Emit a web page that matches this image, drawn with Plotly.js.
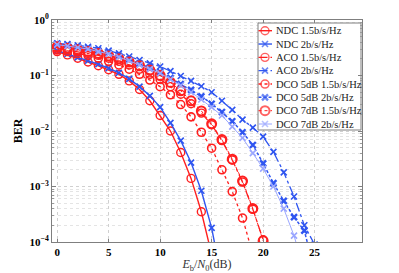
<!DOCTYPE html>
<html>
<head>
<meta charset="utf-8">
<script src="https://cdn.plot.ly/plotly-3.0.1.min.js"></script>
<style>html,body{margin:0;padding:0;background:#fff;}#chart{width:399px;height:273px;}</style>
</head>
<body>
<div id="chart"></div>
<script>
// Eb/N0 (dB) sample points
const ebno = [0,1,2,3,4,5,6,7,8,9,10,11,12,13,14,15,16,17,18,19,20,21,22,23,24,25];

const seriesNames = [
  'NDC 1.5b/s/Hz', 'NDC 2b/s/Hz', 'ACO 1.5b/s/Hz', 'ACO 2b/s/Hz',
  'DCO 5dB 1.5b/s/Hz', 'DCO 5dB 2b/s/Hz', 'DCO 7dB 1.5b/s/Hz', 'DCO 7dB 2b/s/Hz'
];

const berNDC15 = [0.27,0.235,0.205,0.175,0.15,0.127,0.105,0.08,0.056,0.035,0.019,0.010,4.1e-3,1.4e-3,3.5e-4,6e-5];
const berNDC2  = [0.28,0.245,0.212,0.185,0.16,0.135,0.112,0.087,0.063,0.043,0.027,0.014,6.7e-3,2.7e-3,8.4e-4,1.8e-4,2e-5];
const berACO15 = [0.31,0.29,0.27,0.25,0.23,0.205,0.18,0.155,0.13,0.105,0.085,0.063,0.046,0.031,0.021,0.013,6.7e-3,3.0e-3,1.2e-3,3.9e-4,1.1e-4];
const berACO2  = [0.38,0.37,0.35,0.33,0.31,0.28,0.25,0.22,0.19,0.165,0.145,0.12,0.098,0.08,0.064,0.05,0.035,0.024,0.016,0.0115,7.9e-3,4.2e-3,1.8e-3,6.6e-4,2.0e-4,9e-5];
const berDCO5_15 = [0.29,0.27,0.25,0.23,0.205,0.18,0.155,0.13,0.105,0.083,0.063,0.045,0.030,0.018,9.5e-3,4.9e-3,2.0e-3,8.1e-4,2.7e-4,6e-5];
const berDCO5_2  = [0.37,0.35,0.33,0.31,0.28,0.255,0.225,0.195,0.165,0.14,0.115,0.09,0.07,0.055,0.042,0.031,0.022,0.015,9.5e-3,5.6e-3,2.6e-3,1.15e-3,5.5e-4,2.8e-4,1.6e-4,3e-5];
const berDCO7_15 = [0.33,0.31,0.29,0.27,0.25,0.225,0.2,0.175,0.15,0.125,0.10,0.075,0.053,0.035,0.023,0.0135,7.0e-3,3.1e-3,1.25e-3,4.0e-4,1.05e-4];
const berDCO7_2  = [0.36,0.34,0.32,0.30,0.27,0.245,0.215,0.185,0.155,0.13,0.11,0.085,0.066,0.05,0.037,0.027,0.019,0.012,7.5e-3,4.0e-3,2.1e-3,1.0e-3,4.0e-4,1.3e-4,3e-5];

const yTickVals = [1e-4,1e-3,1e-2,1e-1,1];
const yTickText = ['10<sup>\u22124</sup>','10<sup>\u22123</sup>','10<sup>\u22122</sup>','10<sup>\u22121</sup>','10<sup>0</sup>'];
const xTickVals = [0,5,10,15,20,25];

const RED = '#ff1f1f', BLUE = '#2f55f0', LIGHTBLUE = '#9aa6ff';
const styles = [
  {color:RED,  dash:'solid',   symbol:'circle-open', size:8, lw:1.4, mlw:1.4},
  {color:BLUE, dash:'solid',   symbol:'x-thin-open', size:6, lw:1.4, mlw:1.6},
  {color:RED,  dash:'dashdot', symbol:'circle-open', size:8, lw:1.3, mlw:1.4},
  {color:BLUE, dash:'dashdot', symbol:'x-thin-open', size:6, lw:1.3, mlw:1.6},
  {color:RED,  dash:'dot',     symbol:'circle-open', size:8, lw:1.3, mlw:1.6},
  {color:BLUE, dash:'3px,2px', symbol:'x-thin-open', size:6, lw:1.5, mlw:2.4},
  {color:RED,  dash:'dot',     symbol:'circle-open', size:9, lw:1.0, mlw:2.0},
  {color:LIGHTBLUE, dash:'solid', symbol:'x-thin-open', size:6, lw:1.0, mlw:1.6}
];
const seriesData = [berNDC15, berNDC2, berACO15, berACO2, berDCO5_15, berDCO5_2, berDCO7_15, berDCO7_2];

const traces = seriesData.map((ys, i) => ({
  type:'scatter', mode:'lines+markers', name:seriesNames[i],
  x: ebno.slice(0, ys.length), y: ys,
  line:{color:styles[i].color, dash:styles[i].dash, width:styles[i].lw},
  marker:{symbol:styles[i].symbol, size:styles[i].size, color:styles[i].color,
          line:{color:styles[i].color, width:styles[i].mlw}},
  showlegend:false, hoverinfo:'skip'
}));

// Legend box on a pixel-like overlay axis
const L = {x0:258, x1:361, y0:23, y1:130, row0:30.7, dy:13.33, sx0:258.5, sxc:265, sx1:272, tx:274};
traces.push({
  type:'scatter', mode:'lines', x:[L.x0,L.x1,L.x1,L.x0,L.x0], y:[L.y0,L.y0,L.y1,L.y1,L.y0],
  fill:'toself', fillcolor:'#ffffff', line:{color:'#7f7f7f', width:1},
  xaxis:'x2', yaxis:'y2', showlegend:false, hoverinfo:'skip'
});
const annotations = [];
seriesNames.forEach((nm, i) => {
  const ry = L.row0 + L.dy*i;
  traces.push({
    type:'scatter', mode:'lines+markers', x:[L.sx0,L.sxc,L.sx1], y:[ry,ry,ry],
    line:{color:styles[i].color, dash:styles[i].dash, width:styles[i].lw},
    marker:{symbol:styles[i].symbol, size:[0,styles[i].size,0], color:styles[i].color,
            line:{color:styles[i].color, width:styles[i].mlw}},
    xaxis:'x2', yaxis:'y2', showlegend:false, hoverinfo:'skip'
  });
  annotations.push({xref:'x2', yref:'y2', x:L.tx, y:ry, text:nm, showarrow:false,
    xanchor:'left', yanchor:'middle', font:{family:'Liberation Serif', size:10.5, color:'#222'}});
});

const minorY = [];
for (let e = -4; e < 0; e++) for (let m = 2; m <= 9; m++) minorY.push(m*Math.pow(10,e));

const layout = {
  width:399, height:273,
  margin:{l:52, r:37, t:20, b:31, pad:0},
  paper_bgcolor:'#fff', plot_bgcolor:'#fff',
  font:{family:'Liberation Serif', color:'#000'},
  showlegend:false,
  xaxis:{
    range:[-0.5, 29.6], tickmode:'array', tickvals:xTickVals,
    showgrid:true, gridcolor:'#d0d0d0', griddash:'dot', gridwidth:1,
    zeroline:false, showline:true, linecolor:'#7f7f7f', linewidth:1, mirror:'ticks',
    ticks:'inside', ticklen:3, tickcolor:'#7f7f7f',
    tickfont:{family:'Liberation Serif', size:11, weight:'bold', color:'#000'},
    title:{text:'<i>E</i><sub>b</sub>/<i>N</i><sub>0</sub>(dB)', font:{family:'Liberation Serif', size:12, color:'#333'}, standoff:4}
  },
  yaxis:{
    type:'log', range:[-4, 0], tickmode:'array', tickvals:yTickVals, ticktext:yTickText,
    showgrid:true, gridcolor:'#d0d0d0', griddash:'dot', gridwidth:1,
    minor:{tickmode:'array', tickvals:minorY, showgrid:true, gridcolor:'#e4e4e4', griddash:'dot', ticks:'inside', ticklen:2, tickcolor:'#9a9a9a'},
    zeroline:false, showline:true, linecolor:'#7f7f7f', linewidth:1, mirror:'ticks',
    ticks:'inside', ticklen:4, tickcolor:'#7f7f7f',
    tickfont:{family:'Liberation Serif', size:11, weight:'bold', color:'#000'},
    title:{text:'<b>BER</b>', font:{family:'Liberation Serif', size:12, color:'#000'}, standoff:4}
  },
  xaxis2:{overlaying:'x', range:[52,362], visible:false, fixedrange:true},
  yaxis2:{overlaying:'y', range:[242,20], visible:false, fixedrange:true},
  annotations:annotations
};

Plotly.newPlot('chart', traces, layout, {staticPlot:true, displayModeBar:false});
</script>
</body>
</html>
